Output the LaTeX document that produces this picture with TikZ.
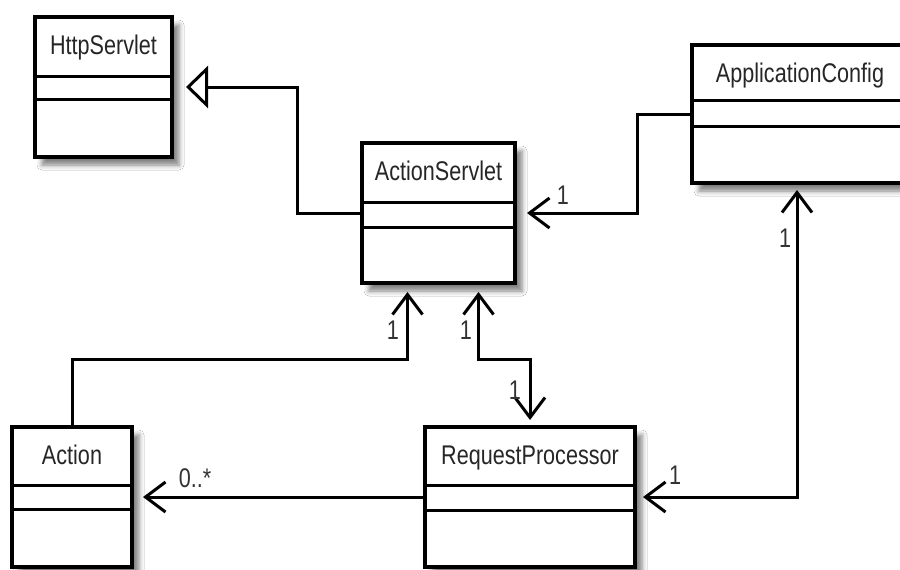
\documentclass[tikz,border=0pt]{standalone}
\usepackage{fontspec}
\setmainfont{Liberation Sans}[FakeStretch=0.8]
\usetikzlibrary{arrows.meta,shadows.blur,calc}
\tikzset{
  cls/.style={draw=black, line width=3.5pt, fill=white, rectangle, inner sep=0pt, outer sep=0pt,
    blur shadow={shadow xshift=7pt, shadow yshift=-8pt, shadow blur radius=5pt, shadow opacity=50}},
  comp/.style={line width=3pt},
  title/.style={font=\fontsize{27}{30}\selectfont, text=black!85, anchor=base, inner sep=0pt},
  lbl/.style={font=\fontsize{27}{30}\selectfont, text=black!80, inner sep=0pt},
  conn/.style={line width=3pt},
  >={Straight Barb[length=20pt,width=30pt]},
  gen/.style={-{Triangle[open, length=22pt, width=42pt, line join=miter]}},
}
\newcommand{\umlbox}[8]{%
  \node[cls, minimum width=#4pt, minimum height=#5pt] (#1) at (#2,#3) {};
  \draw[comp] ($(#1.north west)+(0,#6)$) -- ($(#1.north east)+(0,#6)$);
  \draw[comp] ($(#1.north west)+(0,#7)$) -- ($(#1.north east)+(0,#7)$);
  \node[title] (#1-t) at ($(#1.north)+(0,37.5)$) {#8};}
\begin{document}
\begin{tikzpicture}[x=1pt,y=-1pt]
\fill[white] (0,0) rectangle (900,570);
\clip (0,0) rectangle (900,570);
\umlbox{hs}{103.5}{87}{137}{140}{59}{82}{HttpServlet}
\umlbox{as}{438.5}{213}{153}{140}{59}{84}{ActionServlet}
\umlbox{ac}{800}{114}{216}{138}{55}{81}{ApplicationConfig}
\umlbox{act}{72}{497}{120}{140}{58}{82}{Action}
\umlbox{rp}{530}{497}{210}{140}{58}{83}{RequestProcessor}
% generalization
\draw[conn, gen, shorten >=14pt] (as.west) -- ++(-65,0) |- (hs.east);
% ApplicationConfig -> ActionServlet
\draw[conn, ->, shorten >=12pt] (ac.west) -- ++(-55,0) |- (as.east);
% RequestProcessor <-> ApplicationConfig
\draw[conn, <->, shorten <=8pt, shorten >=7pt] (rp.east) -| ([xshift=-3pt]ac.south);
% Action -> ActionServlet
\draw[conn, ->, shorten >=9pt] (act.north) -- ++(0,-68) -| ([xshift=-31pt]as.south);
% ActionServlet <-> RequestProcessor
\draw[conn, <->, shorten <=9pt, shorten >=7pt] ([xshift=40pt]as.south) -- ++(0,76) -| (rp.north);
% RequestProcessor -> Action
\draw[conn, ->, shorten >=11pt] (rp.west) -- (act.east);
% multiplicities
\node[lbl] (m1) at (563,195) {1};
\node[lbl] (m2) at (785,238) {1};
\node[lbl] (m3) at (675,475) {1};
\node[lbl] (m4) at (393,330) {1};
\node[lbl] (m5) at (466,330) {1};
\node[lbl] (m6) at (515,390) {1};
\node[lbl] (m7) at (195,478) {0..*};
\end{tikzpicture}
\end{document}
